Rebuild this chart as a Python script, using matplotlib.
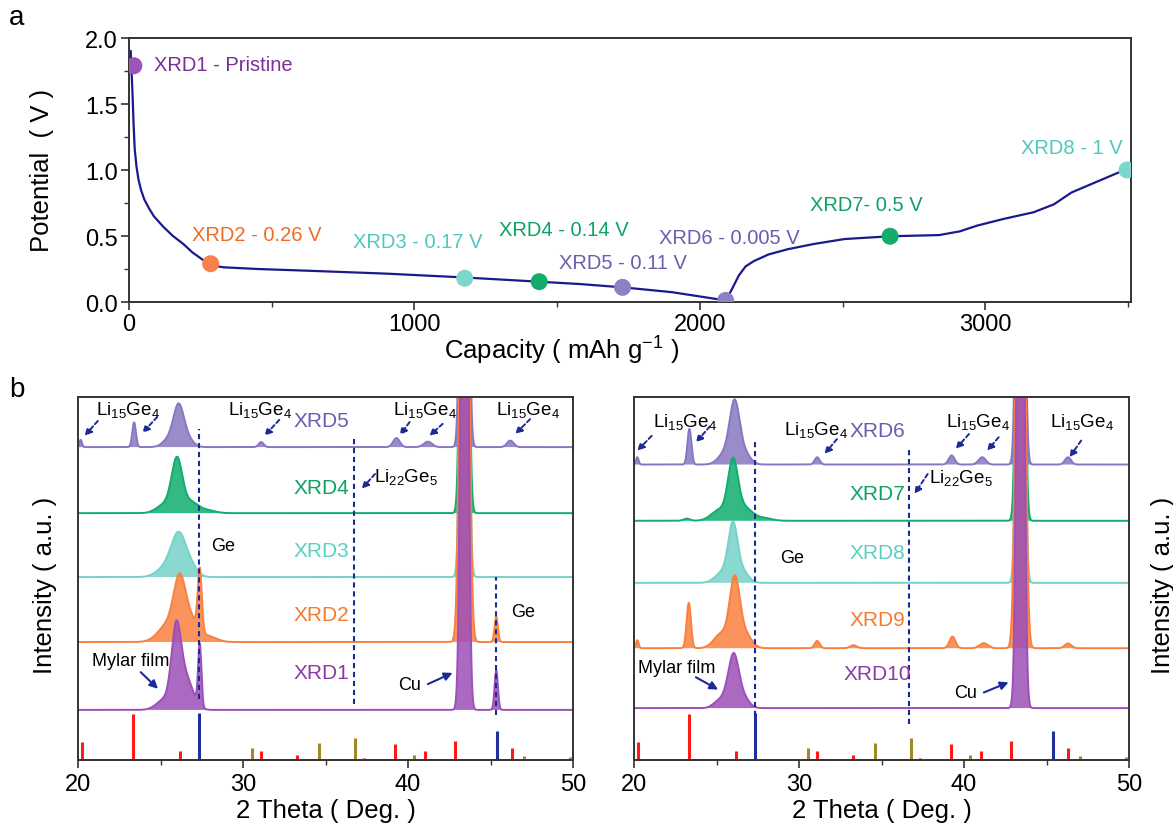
import numpy as np
import matplotlib.pyplot as plt

plt.rcParams['font.family'] = ['Liberation Sans', 'DejaVu Sans']
plt.rcParams['mathtext.fontset'] = 'custom'
plt.rcParams['mathtext.rm'] = 'Liberation Sans'

# ---- panel a: galvanostatic curve ----
capacity = [6, 9, 13, 16, 20, 26, 33, 42, 53, 70, 87, 120, 154, 190, 222, 255, 282, 305, 330,
            450, 626, 900, 1165, 1434, 1580, 1729, 1900, 2090, 2097, 2115, 2136, 2160, 2189,
            2240, 2308, 2400, 2507, 2666, 2838, 2910, 2970, 3063, 3169, 3240, 3302, 3400, 3487]
potential = [1.90, 1.75, 1.54, 1.35, 1.16, 1.03, 0.93, 0.85, 0.78, 0.71, 0.65, 0.57, 0.50, 0.44,
             0.376, 0.325, 0.288, 0.272, 0.263, 0.25, 0.237, 0.215, 0.187, 0.154, 0.136, 0.111,
             0.075, 0.012, 0.035, 0.11, 0.20, 0.27, 0.31, 0.36, 0.40, 0.44, 0.477, 0.498, 0.507,
             0.535, 0.578, 0.629, 0.68, 0.74, 0.83, 0.92, 1.0]

point_cap = [17, 286, 1176, 1437, 1729, 2090, 2666, 3496]
point_v = [1.79, 0.29, 0.18, 0.154, 0.111, 0.012, 0.498, 1.0]
point_labels = ["XRD1 - Pristine", "XRD2 - 0.26 V", "XRD3 - 0.17 V", "XRD4 - 0.14 V",
                "XRD5 - 0.11 V", "XRD6 - 0.005 V", "XRD7- 0.5 V", "XRD8 - 1 V"]
point_colors = ["#9d55b9", "#f9804a", "#7dd6cc", "#12ad6b", "#8d80c4", "#8d80c4", "#12ad6b", "#7dd6cc"]
label_colors = ["#7b2f98", "#f26a21", "#4fc8bf", "#0ca262", "#6b5cae", "#6b5cae", "#0ca262", "#4fc8bf"]
label_x = [87, 448, 1013, 1523, 1730, 2102, 2583, 3303]
label_y = [1.80, 0.51, 0.455, 0.553, 0.30, 0.49, 0.735, 1.17]

# ---- panel b: XRD patterns, peaks as (2theta, height, width) ----
left_names = ["XRD1", "XRD2", "XRD3", "XRD4", "XRD5"]
right_names = ["XRD10", "XRD9", "XRD8", "XRD7", "XRD6"]
left_offsets = [13.8, 32.5, 50.4, 68.0, 86.2]
right_offsets = [14.3, 30.8, 48.8, 65.9, 81.4]

xrd1 = [(25.3, 3, 0.5), (25.95, 19, 0.28), (26.5, 9, 0.45), (27.38, 17, 0.1),
        (43.42, 300, 0.17), (45.35, 11, 0.1)]
xrd2 = [(25.5, 5, 0.6), (26.15, 14, 0.35), (26.8, 6, 0.45), (27.38, 17, 0.12),
        (27.9, 1.5, 0.5), (43.42, 300, 0.2), (45.35, 7, 0.1)]
xrd3 = [(25.4, 3, 0.55), (26.1, 10.5, 0.42), (26.8, 3, 0.4), (43.42, 300, 0.17)]
xrd4 = [(25.3, 2.5, 0.5), (26.0, 14, 0.32), (26.8, 3, 0.45), (27.8, 0.8, 0.5), (43.42, 300, 0.17)]
xrd5 = [(20.16, 2, 0.08), (23.4, 6.8, 0.11), (25.6, 2.5, 0.4), (26.1, 10, 0.3), (26.6, 2.5, 0.35),
        (31.1, 1.4, 0.15), (39.3, 2.5, 0.2), (41.2, 1.5, 0.25), (43.42, 300, 0.17), (46.2, 1.8, 0.2)]
xrd6 = [(20.2, 2, 0.08), (23.36, 9.8, 0.12), (25.5, 3, 0.4), (26.1, 16.3, 0.3), (26.7, 3, 0.35),
        (31.1, 2, 0.15), (39.25, 2.5, 0.18), (41.1, 2, 0.22), (43.42, 300, 0.17), (46.3, 2, 0.18)]
xrd7 = [(23.2, 0.6, 0.2), (25.2, 3, 0.5), (26.0, 15.5, 0.3), (26.7, 3.5, 0.45), (27.8, 0.8, 0.5),
        (43.42, 300, 0.17)]
xrd8 = [(25.4, 3, 0.45), (26.0, 15, 0.28), (26.6, 3, 0.35), (43.42, 300, 0.17)]
xrd9 = [(20.2, 2.2, 0.08), (23.32, 12.5, 0.13), (25.3, 4, 0.45), (26.1, 18, 0.3), (26.7, 4, 0.4),
        (31.1, 2, 0.15), (33.3, 0.8, 0.2), (39.3, 3.2, 0.18), (41.2, 1.4, 0.25),
        (43.42, 300, 0.2), (46.3, 1.3, 0.2)]
xrd10 = [(25.0, 1.2, 0.3), (25.6, 3, 0.35), (26.05, 13, 0.3), (26.6, 3, 0.35), (43.42, 300, 0.17)]

fill_colors = ["#9d50b8", "#fb8040", "#76d2c8", "#0fae6e", "#8877c0"]
text_colors = ["#8a3aa8", "#f47a30", "#5ccfc3", "#0ca262", "#6b5cae"]

# reference sticks (relative intensity)
li15ge4_pos = [20.22, 23.35, 26.18, 31.1, 33.3, 37.34, 39.23, 41.06, 42.83, 46.28]
li15ge4_int = [38, 98, 19, 19, 11, 4, 34, 19, 40, 26]
ge_pos = [27.36, 45.4]
ge_int = [100, 62]
li22ge5_pos = [30.57, 34.6, 36.77, 40.35, 47.05, 49.8]
li22ge5_int = [26, 36, 47, 11, 9, 6]

navy = "#1c2a96"
theta = np.linspace(20, 50, 3001)


def profile(peaks):
    y = np.zeros_like(theta)
    for c, h, w in peaks:
        y += h * np.exp(-0.5 * ((theta - c) / w) ** 2)
    return y


def px(x, y):
    return x / 1173, 1 - y / 829


fig = plt.figure(figsize=(11.73, 8.29), dpi=100)

# ---------------- panel a ----------------
ax = fig.add_axes([129 / 1173, 1 - 303 / 829, 1002 / 1173, 264 / 829])
ax.plot(capacity, potential, color="#1a1a8c", lw=1.6, zorder=2)
ax.scatter(point_cap, point_v, s=150, c=point_colors, zorder=3, edgecolors="none")
for i in range(len(point_labels)):
    ha = "left" if i == 0 else "center"
    ax.text(label_x[i], label_y[i], point_labels[i], color=label_colors[i], fontsize=14.5,
            ha=ha, va="center")
ax.set_xlim(0, 3510)
ax.set_ylim(0, 2.0)
ax.set_xticks([0, 1000, 2000, 3000])
ax.set_xticks(np.arange(500, 3600, 1000), minor=True)
ax.set_yticks([0.0, 0.5, 1.0, 1.5, 2.0])
ax.set_yticklabels(["0.0", "0.5", "1.0", "1.5", "2.0"])
ax.set_yticks([0.25, 0.75, 1.25, 1.75], minor=True)
ax.tick_params(direction="out", length=6, width=1.2, labelsize=17, color="#333333", pad=2)
ax.tick_params(which="minor", direction="out", length=3.5, width=1.0, color="#333333")
for s in ax.spines.values():
    s.set_linewidth(1.4)
    s.set_color("#333333")
fig.text(*px(562, 350), "Capacity ( mAh g$^{-1}$ )", fontsize=18.5, ha="center", va="center")
fig.text(*px(42, 170), "Potential  ( V )", fontsize=18.5, ha="center", va="center", rotation=90)
fig.text(*px(17, 18), "a", fontsize=20, ha="center", va="center")
fig.text(*px(17, 390), "b", fontsize=20, ha="center", va="center")

# ---------------- panel b ----------------
li_txt = r"$\mathregular{Li_{15}Ge_{4}}$"
li22_txt = r"$\mathregular{Li_{22}Ge_{5}}$"


def draw_panel(ax, names, offsets, patterns, label_ys, li_xy, li_arrows, li22, mylar, cu,
               ge_labels, dash_x, dash_y0, dash_y1):
    order = list(range(len(patterns)))[::-1]
    for i in order:
        y = offsets[i] + profile(patterns[i])
        ax.fill_between(theta, offsets[i], y, color=fill_colors[i], alpha=0.85, lw=0, zorder=2 + 0.1 * (5 - i))
        ax.plot(theta, y, color=fill_colors[i], lw=1.4, zorder=2 + 0.1 * (5 - i))
        ax.text(34.75, label_ys[i], names[i], color=text_colors[i], fontsize=15, ha="center",
                va="center", zorder=5)
    ax.vlines(li15ge4_pos, 0, np.array(li15ge4_int) * 0.129, color="#ff1a1a", lw=2.2)
    ax.vlines(ge_pos, 0, np.array(ge_int) * 0.129, color="#20309a", lw=2.2)
    ax.vlines(li22ge5_pos, 0, np.array(li22ge5_int) * 0.129, color="#9e8a26", lw=2.2)
    for x, y0, y1 in zip(dash_x, dash_y0, dash_y1):
        ax.plot([x, x], [y0, y1], color=navy, lw=1.5, ls=(0, (2.5, 1.8)), zorder=4)
    for x, y in li_xy:
        ax.text(x, y, li_txt, fontsize=13.5, ha="center", va="center", zorder=5)
    for (x0, y0), (x1, y1) in li_arrows:
        ax.annotate("", xy=(x1, y1), xytext=(x0, y0), zorder=5,
                    arrowprops=dict(arrowstyle="-|>", color=navy, lw=1.4, ls=(0, (2.2, 1.5)),
                                    mutation_scale=10, shrinkA=0, shrinkB=0))
    (tx, ty), (a0, a1) = li22
    ax.text(tx, ty, li22_txt, fontsize=13.5, ha="center", va="center", zorder=5)
    ax.annotate("", xy=a1, xytext=a0, zorder=5,
                arrowprops=dict(arrowstyle="-|>", color=navy, lw=1.4, ls=(0, (2.2, 1.5)),
                                mutation_scale=10, shrinkA=0, shrinkB=0))
    for (tx, ty), (a0, a1), txt in [(mylar[0], mylar[1], "Mylar film"), (cu[0], cu[1], "Cu")]:
        ax.text(tx, ty, txt, fontsize=13, ha="center", va="center", zorder=5)
        ax.annotate("", xy=a1, xytext=a0, zorder=5,
                    arrowprops=dict(arrowstyle="-|>", color=navy, lw=1.5,
                                    mutation_scale=12, shrinkA=0, shrinkB=0))
    for x, y in ge_labels:
        ax.text(x, y, "Ge", fontsize=13, ha="center", va="center", zorder=5)
    ax.set_xlim(20, 50)
    ax.set_ylim(0, 100)
    ax.set_yticks([])
    ax.set_xticks([20, 30, 40, 50])
    ax.set_xticks([25, 35, 45], minor=True)
    ax.tick_params(direction="out", length=6, width=1.2, labelsize=17, color="#333333")
    ax.tick_params(which="minor", direction="out", length=3.5, width=1.0, color="#333333")
    for s in ax.spines.values():
        s.set_linewidth(1.4)
        s.set_color("#333333")
    ax.set_xlabel("2 Theta ( Deg. )", fontsize=18.5, labelpad=2)


axl = fig.add_axes([78 / 1173, 1 - 761 / 829, 495 / 1173, 363 / 829])
draw_panel(axl, left_names, left_offsets, [xrd1, xrd2, xrd3, xrd4, xrd5],
           [24.2, 40.2, 57.6, 75.2, 93.5],
           [(23.0, 96.7), (31.0, 96.7), (41.0, 96.7), (47.3, 96.7)],
           [((21.2, 93.4), (20.4, 89.3)), ((24.8, 94.5), (23.9, 90.1)),
            ((32.2, 93.7), (31.3, 89.3)), ((40.1, 93.1), (39.5, 89.5)),
            ((42.1, 92.6), (41.3, 89.3)), ((47.4, 93.9), (46.5, 89.8))],
           ((39.9, 78.2), ((38.0, 78.8), (37.2, 74.7))),
           ((23.2, 27.3), ((23.8, 24.2), (24.85, 19.6))),
           ((40.1, 20.9), ((41.2, 20.9), (42.7, 24.0))),
           [(28.8, 59.0), (47.0, 40.8)],
           [27.35, 36.7, 45.35], [16.8, 15.4, 12.4], [91.2, 89.3, 50.4])

axr = fig.add_axes([634 / 1173, 1 - 761 / 829, 495 / 1173, 363 / 829])
draw_panel(axr, right_names, right_offsets, [xrd10, xrd9, xrd8, xrd7, xrd6],
           [23.7, 38.8, 57.2, 73.3, 90.7],
           [(23.1, 93.5), (31.0, 91.2), (40.85, 93.5), (47.15, 93.5)],
           [((21.07, 89.3), (20.2, 85.2)), ((24.6, 91.9), (23.75, 87.5)),
            ((32.3, 88.4), (31.55, 84.3)), ((40.3, 89.8), (39.5, 85.7)),
            ((42.1, 88.9), (41.4, 85.2)), ((47.1, 88.0), (46.4, 83.4))],
           ((39.8, 77.9), ((37.8, 78.8), (37.0, 73.3))),
           ((22.6, 25.5), ((23.75, 22.8), (25.1, 19.4))),
           ((40.1, 18.6), ((41.2, 18.6), (42.7, 21.4))),
           [(29.6, 55.8)],
           [27.33, 36.67], [12.0, 9.9], [88.0, 85.7])

fig.text(*px(45, 585), "Intensity ( a.u. )", fontsize=18.5, ha="center", va="center", rotation=90)
fig.text(*px(1163, 585), "Intensity ( a.u. )", fontsize=18.5, ha="center", va="center", rotation=90)

fig.savefig("out.png", dpi=100)
